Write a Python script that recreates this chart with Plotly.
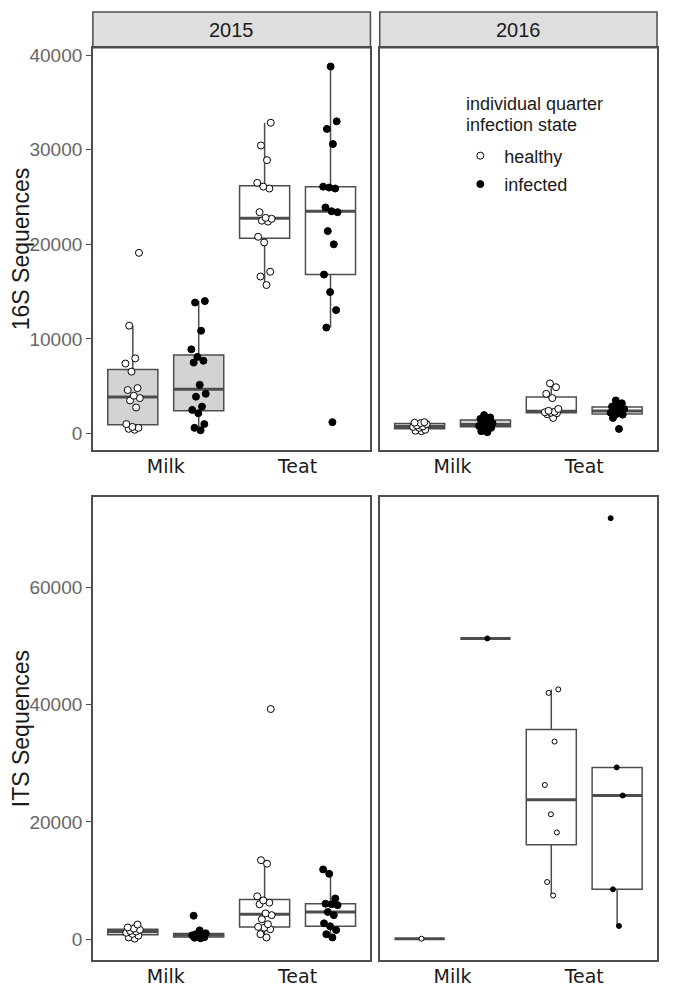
import numpy as np
import plotly.graph_objects as go

# ---------------- data ----------------
years = ["2015", "2016"]
sample_types = ["Milk", "Teat"]
states = ["healthy", "infected"]
row_titles = ["16S Sequences", "ITS Sequences"]
legend_title_lines = ["individual quarter", "infection state"]
ticks_16s = [0, 10000, 20000, 30000, 40000]
ticks_its = [0, 20000, 40000, 60000]

# 16S sequences, 2015
s16_2015_milk_healthy = [400, 500, 600, 700, 1000, 2750, 3500, 3750, 4000, 4600, 4800, 6550, 7400, 7950, 11400, 19100]
s16_2015_milk_infected = [350, 600, 1000, 2150, 2500, 2850, 3900, 4200, 5150, 7500, 7700, 8100, 8900, 10870, 13850, 14000]
s16_2015_teat_healthy = [15700, 16600, 17100, 20200, 20800, 22400, 22500, 22700, 22800, 23400, 25900, 26100, 26500, 28900, 30450, 32850]
s16_2015_teat_infected = [1200, 11200, 13050, 14950, 16800, 20000, 21400, 23400, 23500, 23900, 25900, 26000, 26100, 30600, 32200, 33000, 38800]
# 16S sequences, 2016
s16_2016_milk_healthy = [250, 300, 400, 600, 700, 750, 850, 1000, 1100, 1150, 1200]
s16_2016_milk_infected = [150, 250, 600, 750, 800, 900, 1000, 1100, 1400, 1550, 1700, 1950]
s16_2016_teat_healthy = [1650, 2050, 2150, 2200, 2250, 2300, 2400, 2600, 3750, 4200, 4900, 5300]
s16_2016_teat_infected = [490, 1650, 2000, 2080, 2200, 2300, 2450, 2600, 2800, 2850, 3200, 3500]
# ITS sequences, 2015
its_2015_milk_healthy = [100, 300, 600, 900, 1100, 1300, 1400, 1600, 1800, 2000, 2500]
its_2015_milk_infected = [150, 250, 350, 500, 650, 750, 850, 1000, 1500, 4000]
its_2015_teat_healthy = [290, 850, 1700, 1950, 2100, 2550, 3400, 4100, 4400, 5950, 6230, 6600, 7300, 12870, 13470, 39250]
its_2015_teat_infected = [300, 850, 1550, 2200, 2700, 4100, 4640, 5800, 5950, 6050, 6950, 11150, 11900]
# ITS sequences, 2016
its_2016_milk_healthy = [80]
its_2016_milk_infected = [51300]
its_2016_teat_healthy = [7450, 9750, 18200, 21300, 26300, 33700, 42000, 42600]
its_2016_teat_infected = [2250, 8500, 24500, 29300, 71800]

groups = [
    # (row, col, sample index, state index, values)
    (0, 0, 0, 0, s16_2015_milk_healthy), (0, 0, 0, 1, s16_2015_milk_infected),
    (0, 0, 1, 0, s16_2015_teat_healthy), (0, 0, 1, 1, s16_2015_teat_infected),
    (0, 1, 0, 0, s16_2016_milk_healthy), (0, 1, 0, 1, s16_2016_milk_infected),
    (0, 1, 1, 0, s16_2016_teat_healthy), (0, 1, 1, 1, s16_2016_teat_infected),
    (1, 0, 0, 0, its_2015_milk_healthy), (1, 0, 0, 1, its_2015_milk_infected),
    (1, 0, 1, 0, its_2015_teat_healthy), (1, 0, 1, 1, its_2015_teat_infected),
    (1, 1, 0, 0, its_2016_milk_healthy), (1, 1, 0, 1, its_2016_milk_infected),
    (1, 1, 1, 0, its_2016_teat_healthy), (1, 1, 1, 1, its_2016_teat_infected),
]

# ---------------- styling / geometry ----------------
OFF = 8                      # browser body margin
W, H = 675 - 2 * OFF, 995 - 2 * OFF
LINE = "#4d4d4d"
FILLS = ["#d3d3d3", "#ffffff"]          # Milk, Teat
DODGE = 0.25
BOXW = 0.38
XRANGE = [0.447, 2.553]
YRANGES = [[-1760, 40770], [-3570, 75410]]
PX_COLS = [(92, 370), (379.3, 657)]     # page pixels
PX_ROWS = [(45, 449), (496, 961)]
FONT = "Liberation Sans, Arial, sans-serif"


def fx(px):
    return (px - OFF) / W


def fy(py):
    return 1 - (py - OFF) / H


def box_stats(v):
    a = np.sort(np.asarray(v, float))
    q1, med, q3 = np.percentile(a, [25, 50, 75])
    iqr = q3 - q1
    lo = a[a >= q1 - 1.5 * iqr].min()
    hi = a[a <= q3 + 1.5 * iqr].max()
    return q1, med, q3, lo, hi


def jitter(n):
    return [(((i + 1) * 0.618034) % 1 - 0.5) * 0.12 for i in range(n)]


def axes_names(row, col):
    k = row * 2 + col + 1
    return ("x" if k == 1 else f"x{k}"), ("y" if k == 1 else f"y{k}"), k


fig = go.Figure()

for row, col, si, st, vals in groups:
    xa, ya, _ = axes_names(row, col)
    pos = si + 1 + (-DODGE if st == 0 else DODGE)
    q1, med, q3, lo, hi = box_stats(vals)
    fig.add_trace(go.Box(
        x=[pos], q1=[q1], median=[med], q3=[q3], lowerfence=[lo], upperfence=[hi],
        width=BOXW, fillcolor=FILLS[si], line=dict(color=LINE, width=1.5),
        whiskerwidth=0, boxpoints=False, xaxis=xa, yaxis=ya,
        showlegend=False, hoverinfo="skip"))
    # thicker median bar
    fig.add_trace(go.Box(
        x=[pos], q1=[med], median=[med], q3=[med], lowerfence=[med], upperfence=[med],
        width=BOXW, fillcolor="rgba(0,0,0,0)", line=dict(color=LINE, width=3),
        whiskerwidth=0, boxpoints=False, xaxis=xa, yaxis=ya,
        showlegend=False, hoverinfo="skip"))

legend_done = set()
for row, col, si, st, vals in groups:
    xa, ya, _ = axes_names(row, col)
    pos = si + 1 + (-DODGE if st == 0 else DODGE)
    size = 5 if (row == 1 and col == 1) else 7
    show = states[st] not in legend_done
    legend_done.add(states[st])
    fig.add_trace(go.Scatter(
        x=[pos + j for j in jitter(len(vals))], y=vals, mode="markers",
        name=states[st], legendgroup=states[st], showlegend=show,
        marker=dict(symbol="circle", size=size,
                    color="white" if st == 0 else "black",
                    line=dict(color="black", width=1)),
        xaxis=xa, yaxis=ya))

layout = dict(
    width=W, height=H, margin=dict(l=0, r=0, t=0, b=0),
    paper_bgcolor="white", plot_bgcolor="white",
    font=dict(family=FONT, color="#1a1a1a"),
    boxmode="overlay",
    legend=dict(
        x=fx(456), y=fy(135), xanchor="left", yanchor="top",
        bgcolor="rgba(0,0,0,0)", font=dict(size=18, family=FONT, color="#1a1a1a"),
        tracegroupgap=2, itemwidth=38, itemsizing="trace"),
    shapes=[], annotations=[],
)

# legend title as text (two lines)
for i, line_text in enumerate(legend_title_lines):
    layout["annotations"].append(dict(
        text=line_text, xref="paper", yref="paper", x=fx(464), y=fy(101 + 21.5 * i),
        xanchor="left", yanchor="middle", align="left", showarrow=False,
        font=dict(size=18, family=FONT, color="#1a1a1a")))

for row in range(2):
    for col in range(2):
        xa, ya, k = axes_names(row, col)
        xk = "xaxis" if k == 1 else f"xaxis{k}"
        yk = "yaxis" if k == 1 else f"yaxis{k}"
        x0, x1 = PX_COLS[col]
        y0, y1 = PX_ROWS[row]
        layout[xk] = dict(
            domain=[fx(x0), fx(x1)], anchor=ya, range=XRANGE,
            tickvals=[1, 2], ticktext=sample_types, ticks="",
            ticklabelstandoff=-2,
            tickfont=dict(size=19, family="DejaVu Sans", color="#1a1a1a"),
            showline=True, mirror=True, linecolor=LINE, linewidth=1.5,
            showgrid=False, zeroline=False, fixedrange=True)
        ydict = dict(
            domain=[fy(y1), fy(y0)], anchor=xa, range=YRANGES[row],
            tickvals=ticks_16s if row == 0 else ticks_its, tickformat="d",
            showline=True, mirror=True, linecolor=LINE, linewidth=1.5,
            showgrid=False, zeroline=False, fixedrange=True)
        if col == 0:
            ydict.update(
                ticks="outside", ticklen=5, tickwidth=1.2, tickcolor=LINE,
                tickfont=dict(size=19, family=FONT, color="#666666"),
                title=dict(text=row_titles[row], standoff=5,
                           font=dict(size=23, family=FONT, color="#1a1a1a")))
        else:
            ydict.update(showticklabels=False, ticks="")
        layout[yk] = ydict

# facet strips
for col in range(2):
    x0, x1 = PX_COLS[col]
    layout["shapes"].append(dict(
        type="rect", xref="paper", yref="paper",
        x0=fx(x0), x1=fx(x1), y0=fy(45), y1=fy(9),
        fillcolor="#dedede", line=dict(color=LINE, width=1.5), layer="below"))
    layout["annotations"].append(dict(
        text=years[col], xref="paper", yref="paper",
        x=fx((x0 + x1) / 2), y=fy(27), showarrow=False,
        font=dict(size=20, family=FONT, color="#1a1a1a"),
        xanchor="center", yanchor="middle"))

fig.update_layout(**layout)
fig.write_html("out.html")
